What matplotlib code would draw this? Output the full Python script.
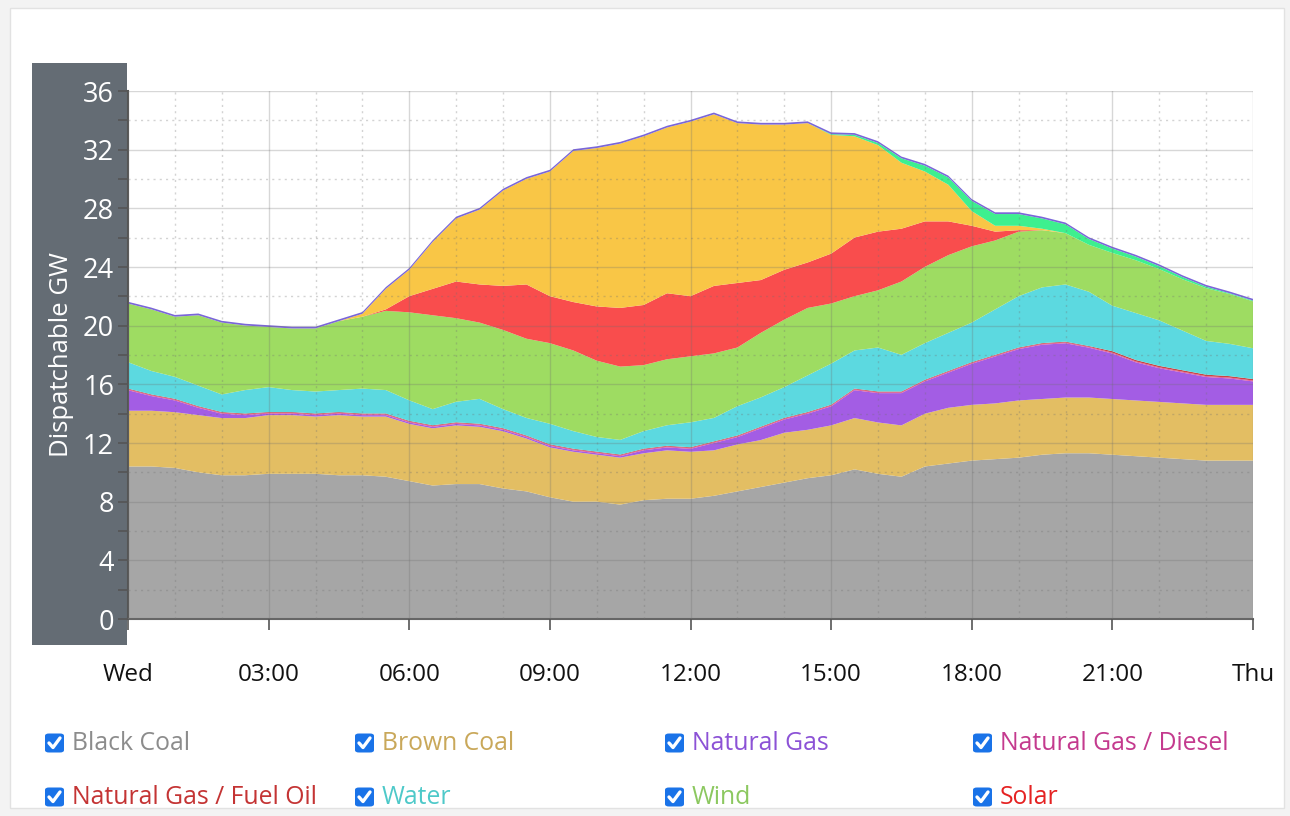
import numpy as np
import matplotlib
matplotlib.use("Agg")
import matplotlib.pyplot as plt
from matplotlib.patches import Rectangle, FancyBboxPatch
from matplotlib.ticker import MultipleLocator

plt.rcParams["font.family"] = ["Open Sans", "DejaVu Sans"]

# ── Data (GW, half-hourly from Wed 00:00 to Thu 00:00) ───────────────────────
hours = np.arange(0, 24.01, 0.5)

black_coal = [10.4, 10.4, 10.3, 10.0, 9.8, 9.8, 9.9, 9.9, 9.9, 9.8, 9.8, 9.7, 9.4, 9.1, 9.2, 9.2,
              8.9, 8.7, 8.3, 8.0, 8.0, 7.8, 8.1, 8.2, 8.2, 8.4, 8.7, 9.0, 9.3, 9.6, 9.8, 10.2,
              9.9, 9.7, 10.4, 10.6, 10.8, 10.9, 11.0, 11.2, 11.3, 11.3, 11.2, 11.1, 11.0, 10.9,
              10.8, 10.8, 10.8]
brown_coal = [3.8, 3.8, 3.8, 3.9, 3.9, 3.9, 4.0, 4.0, 3.9, 4.1, 4.0, 4.1, 3.9, 3.9, 4.0, 3.9,
              3.9, 3.6, 3.4, 3.4, 3.2, 3.2, 3.2, 3.3, 3.2, 3.1, 3.2, 3.2, 3.4, 3.3, 3.4, 3.5,
              3.5, 3.5, 3.6, 3.8, 3.8, 3.8, 3.9, 3.8, 3.8, 3.8, 3.8, 3.8, 3.8, 3.8, 3.8, 3.8, 3.8]
natural_gas = [1.4, 1.0, 0.8, 0.5, 0.3, 0.2, 0.1, 0.1, 0.1, 0.1, 0.1, 0.1, 0.1, 0.1, 0.1, 0.1,
               0.1, 0.1, 0.1, 0.1, 0.1, 0.1, 0.2, 0.2, 0.2, 0.5, 0.5, 0.8, 0.9, 1.1, 1.3, 1.9,
               2.0, 2.2, 2.2, 2.4, 2.8, 3.2, 3.5, 3.7, 3.7, 3.4, 3.1, 2.6, 2.3, 2.1, 1.9, 1.8, 1.6]
gas_diesel = [0.06] * 49
gas_fuel_oil = [0.05] * 42 + [0.1] * 7
water = [1.8, 1.6, 1.5, 1.4, 1.2, 1.6, 1.7, 1.5, 1.5, 1.5, 1.7, 1.6, 1.4, 1.1, 1.4, 1.7,
         1.3, 1.2, 1.4, 1.2, 1.0, 1.0, 1.2, 1.4, 1.7, 1.6, 2.0, 2.0, 2.1, 2.5, 2.8, 2.6,
         3.0, 2.5, 2.5, 2.6, 2.7, 3.1, 3.5, 3.8, 3.9, 3.7, 3.1, 3.2, 3.1, 2.7, 2.3, 2.2, 2.1]
wind = [4.0, 4.2, 4.1, 4.8, 4.9, 4.4, 4.1, 4.2, 4.3, 4.7, 4.9, 5.4, 6.0, 6.4, 5.7, 5.2,
        5.4, 5.4, 5.5, 5.5, 5.2, 5.0, 4.5, 4.5, 4.5, 4.4, 4.0, 4.4, 4.6, 4.6, 4.1, 3.7,
        3.9, 5.0, 5.2, 5.3, 5.2, 4.7, 4.4, 3.9, 3.5, 3.2, 3.6, 3.6, 3.5, 3.5, 3.6, 3.4, 3.2]
solar = [0, 0, 0, 0, 0, 0, 0, 0, 0, 0, 0, 0.1, 1.1, 1.8, 2.5, 2.6,
         3.0, 3.7, 3.2, 3.3, 3.7, 4.0, 4.1, 4.5, 4.1, 4.6, 4.4, 3.6, 3.4, 3.1, 3.4, 4.0,
         4.0, 3.6, 3.1, 2.3, 1.4, 0.6, 0.1, 0, 0, 0, 0, 0, 0, 0, 0, 0, 0]
# series drawn above the listed ones (their legend rows are below the visible crop)
rooftop = [0, 0, 0, 0, 0, 0, 0, 0, 0, 0, 0.2, 1.4, 1.8, 3.2, 4.3, 5.1,
           6.5, 7.2, 8.5, 10.3, 10.8, 11.2, 11.5, 11.3, 11.9, 11.7, 10.9, 10.6, 9.9, 9.5, 8.1, 6.9,
           5.9, 4.5, 3.4, 2.5, 1.0, 0.4, 0.3, 0.1, 0, 0, 0, 0, 0, 0, 0, 0, 0]
battery = [0] * 30 + [0.05, 0.1, 0.15, 0.3, 0.4, 0.5, 0.7, 0.8, 0.8, 0.7, 0.6, 0.4, 0.3,
                      0.25, 0.2, 0.15, 0.1, 0.05, 0.05]
other = [0.12] * 49

names = ["Black Coal", "Brown Coal", "Natural Gas", "Natural Gas / Diesel",
         "Natural Gas / Fuel Oil", "Water", "Wind", "Solar"]
fill_colors = ["#a6a6a6", "#e3be63", "#a35de4", "#e0529c", "#cc4444",
               "#5cd9e0", "#9edc62", "#f94d4d", "#f9c646", "#3df08f", "#7a66d8"]
text_colors = ["#8c8c8c", "#c9a85a", "#8c52d6", "#c43a8e", "#c43434",
               "#4ec9c9", "#8cc860", "#e52222"]

x_ticks = [0, 3, 6, 9, 12, 15, 18, 21, 24]
x_labels = ["Wed", "03:00", "06:00", "09:00", "12:00", "15:00", "18:00", "21:00", "Thu"]

# ── Figure ────────────────────────────────────────────────────────────────────
fig = plt.figure(figsize=(12.9, 8.16), dpi=100)
fig.patch.set_facecolor("#f3f3f3")
W, H = 1290, 816


def fx(px):
    return px / W


def fy(py):
    return 1 - py / H


# white card
fig.patches.append(Rectangle((fx(10), fy(808)), fx(1284) - fx(10), fy(8) - fy(808),
                             transform=fig.transFigure, facecolor="white",
                             edgecolor="#e2e2e2", lw=1, zorder=-3))
# y-axis panel
fig.patches.append(Rectangle((fx(32), fy(645)), fx(127) - fx(32), fy(63) - fy(645),
                             transform=fig.transFigure, facecolor="#646c74",
                             edgecolor="none", zorder=-2))

ax = fig.add_axes([fx(128), fy(619), fx(1253) - fx(128), fy(91) - fy(619)])
ax.set_facecolor("none")

series = [black_coal, brown_coal, natural_gas, gas_diesel, gas_fuel_oil,
          water, wind, solar, rooftop, battery, other]
ax.stackplot(hours, *series, colors=fill_colors, linewidth=0, zorder=1)

ax.set_xlim(0, 24)
ax.set_ylim(0, 36)

# grid
ax.set_axisbelow(False)
ax.xaxis.set_major_locator(MultipleLocator(3))
ax.xaxis.set_minor_locator(MultipleLocator(1))
ax.yaxis.set_major_locator(MultipleLocator(4))
ax.yaxis.set_minor_locator(MultipleLocator(2))
ax.grid(which="major", color="#707070", alpha=0.28, lw=1, zorder=3)
ax.grid(which="minor", color="#707070", alpha=0.3, lw=1, ls=(0, (1.5, 3)), zorder=3)

ax.set_xticks(x_ticks)
ax.set_xticklabels(x_labels)
ax.tick_params(axis="x", which="major", length=8, width=1.2, color="#555555",
               labelsize=17.5, labelcolor="#111111", pad=24)
ax.tick_params(axis="x", which="minor", length=0)
ax.tick_params(axis="y", which="both", length=7, width=1.2, color="#555555", direction="out")
ax.tick_params(axis="y", which="major", labelsize=19.5, labelcolor="white", pad=3)

for side in ["top", "right"]:
    ax.spines[side].set_visible(False)
ax.spines["left"].set_color("#555555")
ax.spines["left"].set_linewidth(1.5)
ax.spines["bottom"].set_color("#666666")
ax.spines["bottom"].set_linewidth(1.5)

ax.set_ylabel("Dispatchable GW", color="white", fontsize=18.5)
ax.yaxis.set_label_coords(-0.048, 0.5)

# ── Legend with checkboxes ───────────────────────────────────────────────────
col_x = [45, 355, 665, 973]
row_y = [743, 797]
box = 19
for i, (name, tc) in enumerate(zip(names, text_colors)):
    cx = col_x[i % 4]
    cy = row_y[i // 4]
    fig.patches.append(FancyBboxPatch((fx(cx), fy(cy + box / 2)), fx(box), box / H,
                                      boxstyle="round,pad=0,rounding_size=0.003",
                                      transform=fig.transFigure, facecolor="#1a73e8",
                                      edgecolor="none", zorder=2))
    fig.lines.append(plt.Line2D([fx(cx + 4), fx(cx + 8), fx(cx + 15)],
                                [fy(cy), fy(cy + 4.5), fy(cy - 5)],
                                transform=fig.transFigure, color="white", lw=2.4,
                                solid_capstyle="round", zorder=3))
    fig.text(fx(cx + 27), fy(cy), name, color=tc, fontsize=17.8, va="center", ha="left")

fig.savefig("out.png", dpi=100, facecolor=fig.get_facecolor())
